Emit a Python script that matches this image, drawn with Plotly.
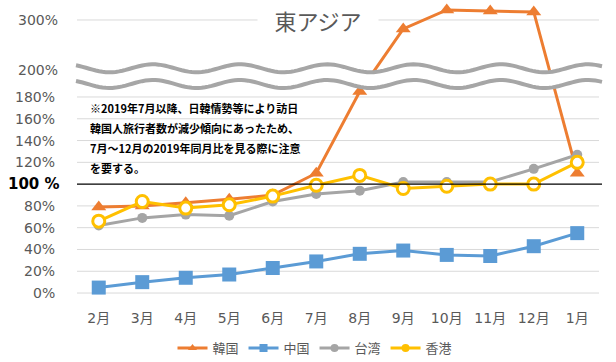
import plotly.graph_objects as go
import numpy as np

# ---- data ----
months = ["2月", "3月", "4月", "5月", "6月", "7月", "8月", "9月", "10月", "11月", "12月", "1月"]
korea = [79, 80, 83, 86, 90, 110, 184, 282, 320, 318, 316, 110]
china = [5, 10, 14, 17, 23, 29, 36, 39, 35, 34, 43, 55]
taiwan = [62, 69, 72, 71, 84, 91, 94, 102, 102, 102, 114, 127]
hongkong = [66, 84, 78, 81, 89, 99, 108, 96, 98, 100, 100, 120]

grid_values = [0, 20, 40, 60, 80, 120, 140, 160, 180, 300]
tick_values = [0, 20, 40, 60, 80, 100, 120, 140, 160, 180, 200, 300]
tick_labels = ["0%", "20%", "40%", "60%", "80%", "100 %", "120%", "140%", "160%", "180%", "200%", "300%"]
title_text = "東アジア"
note_lines = [
    "※2019年7月以降、日韓情勢等により訪日",
    "韓国人旅行者数が減少傾向にあったため、",
    "7月～12月の2019年同月比を見る際に注意",
    "を要する。",
]
series_names = ["韓国", "中国", "台湾", "香港"]

# ---- broken axis mapping ----
def to_disp(v):
    if v <= 180:
        return v
    if v <= 200:
        return 180 + (v - 180) * 1.24
    return 204.8 + (v - 200) * 0.459

def dlist(vals):
    return [to_disp(v) for v in vals]

# pixel helpers (plot area 77..599 x 8..300)
W, H = 616, 362
L, R, T, B = 77, 599, 8, 300
def px(p):
    return (p - L) / (R - L)
def py(p):
    return (B - p) / (B - T)

FONT = "DejaVu Sans, Noto Sans CJK JP"
GRAY_TXT = "#595959"

fig = go.Figure()

fig.add_trace(go.Scatter(x=months, y=dlist(korea), mode="lines+markers", name=series_names[0],
                         line=dict(color="#ED7D31", width=3),
                         marker=dict(symbol="triangle-up", size=13, color="#ED7D31"),
                         showlegend=False, cliponaxis=False))
fig.add_trace(go.Scatter(x=months, y=dlist(china), mode="lines+markers", name=series_names[1],
                         line=dict(color="#5B9BD5", width=3),
                         marker=dict(symbol="square", size=14, color="#5B9BD5"),
                         showlegend=False, cliponaxis=False))
fig.add_trace(go.Scatter(x=months, y=dlist(taiwan), mode="lines+markers", name=series_names[2],
                         line=dict(color="#A5A5A5", width=3),
                         marker=dict(symbol="circle", size=10, color="#A5A5A5"),
                         showlegend=False, cliponaxis=False))
fig.add_trace(go.Scatter(x=months, y=dlist(hongkong), mode="lines+markers", name=series_names[3],
                         line=dict(color="#FFC000", width=3),
                         marker=dict(symbol="circle", size=12, color="#FFFFFF",
                                     line=dict(color="#FFC000", width=3)),
                         showlegend=False, cliponaxis=False))

# legend entries
for nm, col, sym, sz in [(series_names[0], "#ED7D31", "triangle-up", 8),
                         (series_names[1], "#5B9BD5", "square", 8),
                         (series_names[2], "#A5A5A5", "circle", 8),
                         (series_names[3], "#FFC000", "circle", 8)]:
    fig.add_trace(go.Scatter(x=[None], y=[None], mode="lines+markers", name=nm,
                             line=dict(color=col, width=3),
                             marker=dict(symbol=sym, size=sz, color=col)))

shapes = []
for v in grid_values:
    shapes.append(dict(type="line", xref="paper", yref="y", x0=0, x1=1,
                       y0=to_disp(v), y1=to_disp(v),
                       line=dict(color="#D9D9D9", width=1), layer="below"))
shapes.append(dict(type="line", xref="paper", yref="y", x0=0, x1=px(602),
                   y0=to_disp(100), y1=to_disp(100),
                   line=dict(color="#000000", width=1.2), layer="above"))

# wave break
xs = np.linspace(76, 602, 160)
up = 68.3 - 4 * np.cos(2 * np.pi * (xs - 153) / 87)
lo = 84.0 - 4 * np.cos(2 * np.pi * (xs - 153) / 87)
band = "M " + " L ".join(f"{px(a):.5f},{py(b):.5f}" for a, b in zip(xs, up - 1))
band += " L " + " L ".join(f"{px(a):.5f},{py(b):.5f}" for a, b in zip(xs[::-1], (lo + 1)[::-1])) + " Z"
shapes.append(dict(type="path", xref="paper", yref="paper", path=band,
                   fillcolor="#FFFFFF", line=dict(width=0), layer="above"))
for arr in (up, lo):
    p = "M " + " L ".join(f"{px(a):.5f},{py(b):.5f}" for a, b in zip(xs, arr))
    shapes.append(dict(type="path", xref="paper", yref="paper", path=p,
                       line=dict(color="#A6A6A6", width=4), layer="above"))

annotations = []
# y tick labels
for v, t in zip(tick_values, tick_labels):
    if v == 100:
        annotations.append(dict(x=px(62), y=to_disp(v), xref="paper", yref="y", text="<b>" + t + "</b>",
                                showarrow=False, xanchor="right", yanchor="middle",
                                font=dict(family=FONT, size=15, color="#000000")))
    elif v >= 200:
        annotations.append(dict(x=px(60), y=to_disp(v), xref="paper", yref="y", text=t,
                                showarrow=False, xanchor="right", yanchor="middle",
                                font=dict(family=FONT, size=14, color=GRAY_TXT)))
    else:
        annotations.append(dict(x=px(57), y=to_disp(v), xref="paper", yref="y", text=t,
                                showarrow=False, xanchor="right", yanchor="middle",
                                font=dict(family=FONT, size=14, color=GRAY_TXT)))

# title
annotations.append(dict(x=px(318), y=py(20), xref="paper", yref="paper", text=title_text,
                        showarrow=False, xanchor="center", yanchor="middle",
                        width=118, height=26, bgcolor="#FFFFFF",
                        font=dict(family="Noto Sans CJK JP", size=22, color=GRAY_TXT)))

# note
for i, ln in enumerate(note_lines):
    annotations.append(dict(x=px(88), y=py(108 + i * 20), xref="paper", yref="paper",
                            text="<b>" + ln + "</b>", showarrow=False,
                            xanchor="left", yanchor="middle",
                            font=dict(family="Noto Sans CJK JP", size=11, color="#000000")))

fig.update_layout(
    width=W, height=H, autosize=False,
    margin=dict(l=L, r=W - R, t=T, b=H - B, autoexpand=False),
    paper_bgcolor="white", plot_bgcolor="white",
    shapes=shapes, annotations=annotations,
    xaxis=dict(type="category", range=[-0.5, 11.5], showgrid=False, zeroline=False,
               showline=False, ticks="", ticklabelstandoff=8, automargin=False,
               tickfont=dict(family=FONT, size=14, color=GRAY_TXT)),
    yaxis=dict(range=[-6.4, 261.7], showgrid=False, zeroline=False, showticklabels=False,
               showline=False, automargin=False),
    legend=dict(orientation="h", xref="container", yref="container",
                x=315 / W, y=1 - 348 / H, xanchor="center", yanchor="middle",
                font=dict(family=FONT, size=13, color=GRAY_TXT), itemwidth=30,
                tracegroupgap=0, bgcolor="rgba(0,0,0,0)"),
    showlegend=True,
)

fig.write_html("out.html", config={"displayModeBar": False},
               post_script="document.body.style.margin='0';")
